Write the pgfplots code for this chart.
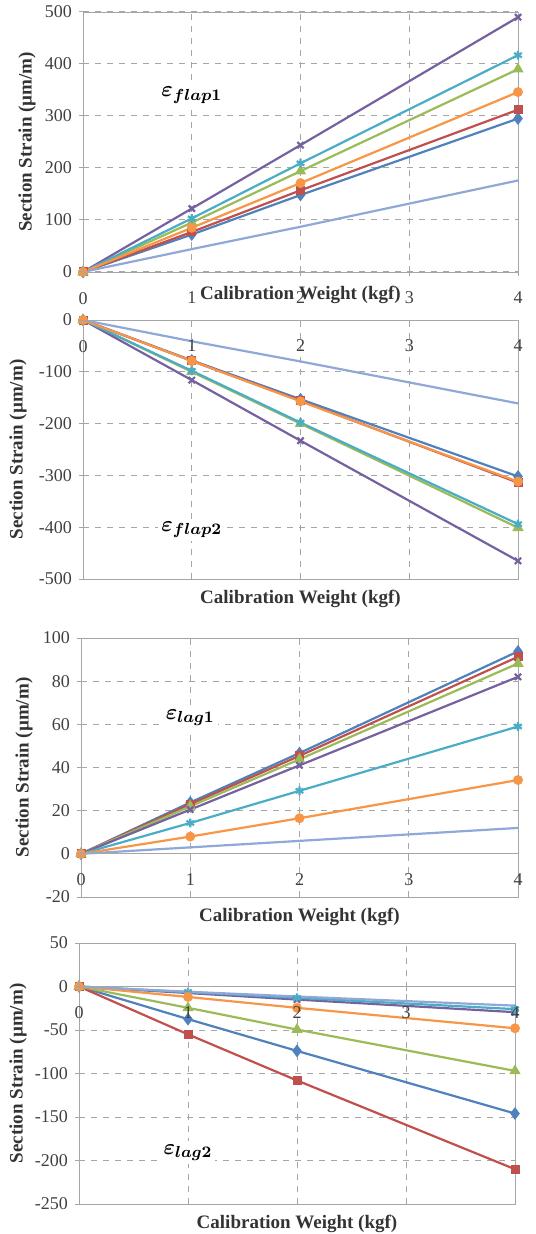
\documentclass[border=0pt]{standalone}
\usepackage{fontspec}
\setmainfont{Liberation Serif}
\usepackage{bm}
\usepackage{pgfplots}
\pgfplotsset{compat=1.18}

\newlength\px
\setlength\px{0.5pt}

\definecolor{sBlue}{HTML}{4F81BD}
\definecolor{sRed}{HTML}{C0504D}
\definecolor{sGreen}{HTML}{9BBB59}
\definecolor{sPurple}{HTML}{7560A0}
\definecolor{sCyan}{HTML}{4BACC6}
\definecolor{sOrange}{HTML}{F79646}
\definecolor{sLight}{HTML}{8FA8D8}
\definecolor{axgray}{HTML}{A6A6A6}

\tikzset{elabel/.style={fill=white, inner sep=1.5pt, font=\fontsize{11}{13}\selectfont}}

% tick labels above the curves, as Excel draws them
\pgfplotsset{
  layers/strainlayers/.define layer set={
    axis background,axis grid,main,axis ticks,axis lines,axis tick labels,
    axis descriptions,axis foreground
  }{
    grid style={/pgfplots/on layer=axis grid},
    tick style={/pgfplots/on layer=axis ticks},
    axis line style={/pgfplots/on layer=axis lines},
    label style={/pgfplots/on layer=axis descriptions},
    ticklabel style={/pgfplots/on layer=axis tick labels},
  },
}

\pgfplotsset{
  ylab/.style={every axis y label/.style={at={(axis description cs:0,0.5)},
      xshift=#1, rotate=90, anchor=center,
      font=\bfseries\fontsize{9.5}{11}\selectfont, text=black!80}},
  strain/.style={
    set layers=strainlayers,
    scale only axis, width=435\px,
    xmin=0, xmax=4, xtick={0,1,2,3,4},
    axis x line=middle, axis y line=left,
    axis line style={draw=axgray},
    every inner x axis line/.append style={-},
    every outer x axis line/.append style={-},
    every inner y axis line/.append style={-},
    every outer y axis line/.append style={-},
    hide obscured x ticks=false,
    hide obscured y ticks=false,
    grid=major, grid style={dashed, axgray, line width=0.5pt},
    tick align=outside, major tick length=4\px,
    tick style={axgray, line width=0.5pt},
    /pgf/number format/assume math mode=true,
    ticklabel style={font=\fontsize{9}{10}\selectfont, text=black!75},
    xticklabel style={yshift=-9\px},
    clip=false,
    every axis x label/.style={at={(axis description cs:0.5,0)}, anchor=center,
      yshift=-20\px, font=\bfseries\fontsize{9.5}{11}\selectfont, text=black!80},
    ylab=-57\px,
    xlabel={Calibration Weight (kgf)},
    ylabel={Section Strain (µm/m)},
    every axis plot/.append style={line width=1.1pt},
  },
  sb/.style={sBlue, mark=diamond*, mark size=2.3pt},
  sr/.style={sRed, mark=square*, mark size=1.7pt},
  sg/.style={sGreen, mark=triangle*, mark size=2.2pt},
  sp/.style={sPurple, mark=x, mark size=2.2pt},
  sc/.style={sCyan, mark=asterisk, mark size=2.2pt},
  so/.style={sOrange, mark=*, mark size=1.9pt},
  sl/.style={sLight, no marks},
}

\begin{document}
\begin{tikzpicture}

% flap 1
\begin{axis}[strain, at={(83\px,-272\px)}, anchor=south west, height=260\px,
  ymin=0, ymax=500, ytick={0,100,200,300,400,500},
  every axis x label/.append style={yshift=-3\px}, ylab=-56\px]
\draw[axgray] (rel axis cs:0,0) rectangle (rel axis cs:1,1);
\addplot[sb] coordinates {(0,0) (1,72) (2,148) (4,295)};
\addplot[sr] coordinates {(0,0) (1,77) (2,157) (4,312)};
\addplot[sg] coordinates {(0,0) (1,95) (2,194) (4,390)};
\addplot[sp] coordinates {(0,0) (1,122) (2,244) (4,490)};
\addplot[sc] coordinates {(0,0) (1,103) (2,209) (4,417)};
\addplot[so] coordinates {(0,0) (1,85) (2,171) (4,346)};
\addplot[sl] coordinates {(0,0) (1,44) (2,87) (4,176)};
\node[elabel] at (axis cs:1,340) {$\bm{\varepsilon_{flap1}}$};
\end{axis}

% flap 2
\begin{axis}[strain, at={(83\px,-579\px)}, anchor=south west, height=259\px,
  ymin=-500, ymax=0, ytick={-500,-400,-300,-200,-100,0},
  ylab=-65\px]
\draw[axgray] (rel axis cs:0,0) rectangle (rel axis cs:1,1);
\addplot[sb] coordinates {(0,0) (1,-78) (2,-153) (4,-302)};
\addplot[sr] coordinates {(0,0) (1,-79) (2,-156) (4,-314)};
\addplot[sg] coordinates {(0,0) (1,-100) (2,-200) (4,-401)};
\addplot[sp] coordinates {(0,0) (1,-116) (2,-233) (4,-465)};
\addplot[sc] coordinates {(0,0) (1,-98) (2,-198) (4,-394)};
\addplot[so] coordinates {(0,0) (1,-79) (2,-157) (4,-312)};
\addplot[sl] coordinates {(0,0) (1,-41) (2,-80) (4,-161)};
\node[elabel] at (axis cs:1,-405) {$\bm{\varepsilon_{flap2}}$};
\end{axis}

% lag 1
\begin{axis}[strain, at={(81\px,-897\px)}, anchor=south west, height=259\px,
  width=437\px,
  ymin=-20, ymax=100, ytick={-20,0,20,40,60,80,100},
  ylab=-57\px]
\draw[axgray] (rel axis cs:0,0) rectangle (rel axis cs:1,1);
\addplot[sb] coordinates {(0,0) (1,23.8) (2,46.7) (4,93.8)};
\addplot[sr] coordinates {(0,0) (1,23) (2,45.4) (4,91.3)};
\addplot[sg] coordinates {(0,0) (1,22) (2,43.8) (4,88.2)};
\addplot[sp] coordinates {(0,0) (1,20.5) (2,41) (4,82)};
\addplot[sc] coordinates {(0,0) (1,14.3) (2,29.2) (4,59)};
\addplot[so] coordinates {(0,0) (1,8) (2,16.5) (4,34.2)};
\addplot[sl] coordinates {(0,0) (1,3) (2,6) (4,12)};
\node[elabel] at (axis cs:1,63) {$\bm{\varepsilon_{lag1}}$};
\end{axis}

% lag 2
\begin{axis}[strain, at={(79\px,-1204\px)}, anchor=south west, height=261\px,
  width=436\px,
  ymin=-250, ymax=50, ytick={-250,-200,-150,-100,-50,0,50},
  ylab=-61\px]
\draw[axgray] (rel axis cs:0,0) rectangle (rel axis cs:1,1);
\addplot[sb] coordinates {(0,0) (1,-37.5) (2,-74) (4,-146)};
\addplot[sr] coordinates {(0,0) (1,-55) (2,-108) (4,-210)};
\addplot[sg] coordinates {(0,0) (1,-24.5) (2,-49.5) (4,-97)};
\addplot[sp] coordinates {(0,0) (1,-7.5) (2,-15) (4,-29.5)};
\addplot[sc] coordinates {(0,0) (1,-6.5) (2,-13) (4,-26)};
\addplot[so] coordinates {(0,0) (1,-12) (2,-24.5) (4,-48)};
\addplot[sl] coordinates {(0,0) (1,-6) (2,-11.5) (4,-22)};
\node[elabel] at (axis cs:1,-191) {$\bm{\varepsilon_{lag2}}$};
\end{axis}

% page = the reference's 535 x 1234 frame
\pgfresetboundingbox
\path (0,0) rectangle (535\px,-1234\px);
\end{tikzpicture}
\end{document}
